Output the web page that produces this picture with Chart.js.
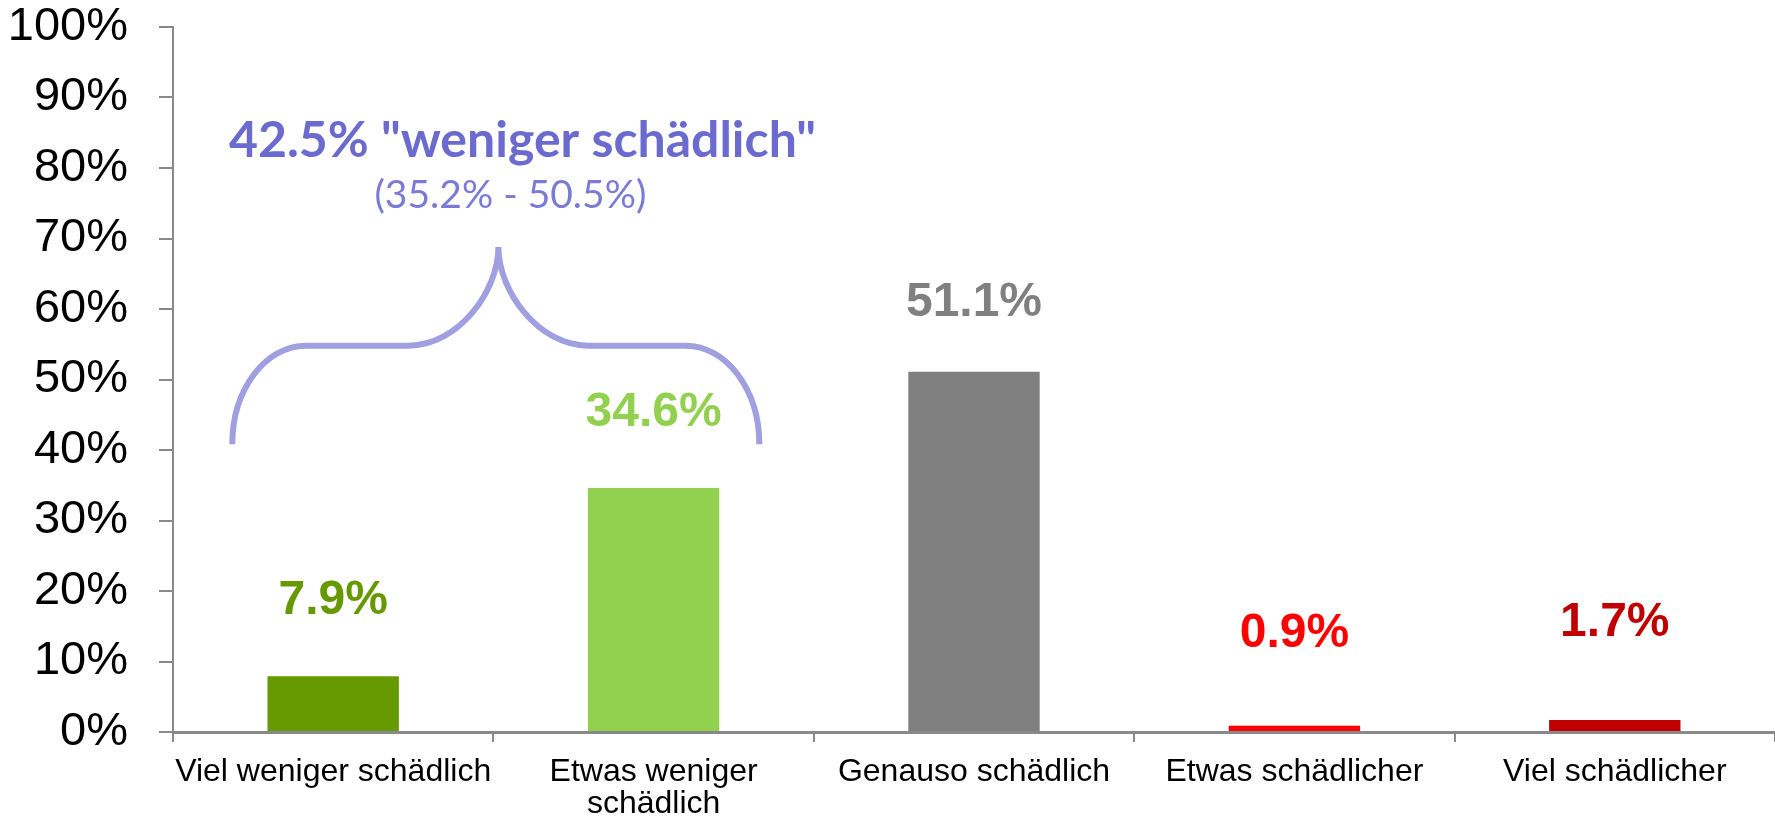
<!DOCTYPE html>
<html>
<head>
<meta charset="utf-8">
<script src="https://cdn.jsdelivr.net/npm/chart.js@4.4.1/dist/chart.umd.min.js"></script>
<style>
  html, body { margin: 0; padding: 0; background: #ffffff; }
  #wrap { width: 1775px; height: 821px; position: relative; }
</style>
</head>
<body>
<div id="wrap"><canvas id="c" width="1775" height="821"></canvas></div>
<script>
// ---- data ----
const categories = [
  ["Viel weniger schädlich"],
  ["Etwas weniger", "schädlich"],
  ["Genauso schädlich"],
  ["Etwas schädlicher"],
  ["Viel schädlicher"]
];
const values = [7.9, 34.6, 51.1, 0.9, 1.7];
const barColors = ["#669900", "#92D050", "#808080", "#FF0000", "#C00000"];
const yTicks = [0, 10, 20, 30, 40, 50, 60, 70, 80, 90, 100];
const summaryTitle = '42.5% "weniger schädlich"';
const summaryRange = '(35.2% - 50.5%)';

// ---- plugins ----
const valueLabelPlugin = {
  id: 'valueLabels',
  afterDatasetsDraw(chart, args, opts) {
    const ctx = chart.ctx;
    const meta = chart.getDatasetMeta(0);
    ctx.save();
    ctx.font = 'bold 48px "Liberation Sans", Arial, sans-serif';
    ctx.textAlign = 'center';
    ctx.textBaseline = 'middle';
    meta.data.forEach((bar, i) => {
      ctx.fillStyle = barColors[i];
      ctx.fillText(values[i].toFixed(1) + '%', bar.x, bar.y - opts.offsets[i]);
    });
    ctx.restore();
  }
};

const bracePlugin = {
  id: 'brace',
  afterDatasetsDraw(chart) {
    const ctx = chart.ctx;
    const xs = chart.scales.x, ys = chart.scales.y;
    const x0 = xs.getPixelForValue(0), x1 = xs.getPixelForValue(1);
    const cw = x1 - x0;
    const left = x0 - 0.315 * cw;
    const right = x1 + 0.33 * cw;
    const mid = (x0 + x1) / 2 + 5;
    const yEnd = ys.getPixelForValue(40.8);
    const yH = ys.getPixelForValue(54.8);
    const yPeak = ys.getPixelForValue(68.8);
    const rE = 0.23 * cw;   // end curve horizontal radius
    const rM = 0.28 * cw;   // middle curve horizontal radius
    const k = 0.552;
    const hE = yEnd - yH, hM = yH - yPeak;
    ctx.save();
    ctx.strokeStyle = '#A0A0E0';
    ctx.lineWidth = 6;
    ctx.lineCap = 'butt';
    ctx.beginPath();
    ctx.moveTo(left, yEnd);
    ctx.bezierCurveTo(left, yEnd - hE * k, left + rE * (1 - k), yH, left + rE, yH);
    ctx.lineTo(mid - rM, yH);
    ctx.bezierCurveTo(mid - rM * (1 - k), yH, mid, yPeak + hM * (1 - k), mid, yPeak);
    ctx.bezierCurveTo(mid, yPeak + hM * (1 - k), mid + rM * (1 - k), yH, mid + rM, yH);
    ctx.lineTo(right - rE, yH);
    ctx.bezierCurveTo(right - rE * (1 - k), yH, right, yEnd - hE * k, right, yEnd);
    ctx.stroke();

    ctx.textAlign = 'center';
    ctx.textBaseline = 'middle';
    ctx.fillStyle = '#6B6BCF';
    ctx.font = 'bold 50px Lato, "Open Sans", sans-serif';
    ctx.fillText(summaryTitle, mid + 24, ys.getPixelForValue(83.8));
    ctx.fillStyle = '#7B7BD6';
    ctx.font = '39px Lato, "Open Sans", sans-serif';
    ctx.fillText(summaryRange, mid + 12, ys.getPixelForValue(76.1));
    ctx.restore();
  }
};

new Chart(document.getElementById('c'), {
  type: 'bar',
  data: {
    labels: categories,
    datasets: [{
      data: values,
      backgroundColor: barColors,
      borderWidth: 0,
      categoryPercentage: 1.0,
      barPercentage: 0.41
    }]
  },
  options: {
    responsive: false,
    animation: false,
    devicePixelRatio: 1,
    layout: { padding: { top: 27, right: 0, left: 0, bottom: 0 } },
    plugins: {
      legend: { display: false },
      tooltip: { enabled: false },
      valueLabels: { offsets: [76, 75, 69, 92, 97] }
    },
    scales: {
      x: {
        afterFit(axis) { axis.height = 89; axis.paddingLeft = 0; axis.paddingRight = 0; },
        grid: {
          display: true,
          offset: true,
          drawOnChartArea: false,
          drawTicks: true,
          tickLength: 10,
          color: '#898989',
          lineWidth: 2
        },
        border: { display: true, color: '#898989', width: 3 },
        ticks: {
          color: '#000000',
          font: { family: '"Liberation Sans", Arial, sans-serif', size: 32, lineHeight: 1.0 },
          padding: 14,
          maxRotation: 0,
          autoSkip: false
        }
      },
      y: {
        min: 0,
        max: 100,
        afterBuildTicks(axis) { axis.ticks = yTicks.map(v => ({ value: v })); },
        afterFit(axis) { axis.width = 173; axis.paddingTop = 0; axis.paddingBottom = 0; },
        grid: {
          display: true,
          drawOnChartArea: false,
          drawTicks: true,
          tickLength: 14,
          color: '#898989',
          lineWidth: 2
        },
        border: { display: true, color: '#898989', width: 2 },
        ticks: {
          color: '#000000',
          font: { family: '"Liberation Sans", Arial, sans-serif', size: 47 },
          padding: 31,
          callback: v => v + '%'
        }
      }
    }
  },
  plugins: [valueLabelPlugin, bracePlugin]
});
</script>
</body>
</html>
